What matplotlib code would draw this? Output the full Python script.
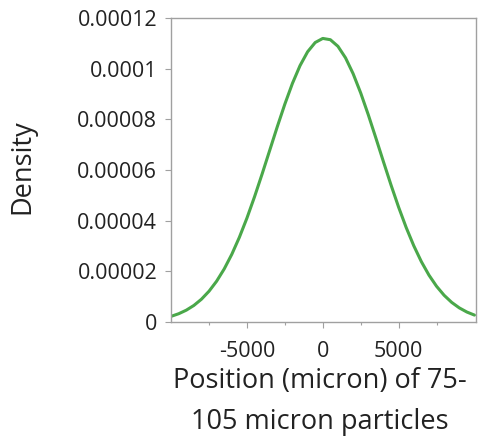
import matplotlib
matplotlib.use("Agg")
import matplotlib.pyplot as plt
from matplotlib.ticker import FixedLocator

plt.rcParams["font.family"] = ["Open Sans", "DejaVu Sans"]
plt.rcParams["axes.unicode_minus"] = False

# density curve, every 500 micron
POSITION = [-10000, -9500, -9000, -8500, -8000, -7500, -7000, -6500, -6000, -5500,
            -5000, -4500, -4000, -3500, -3000, -2500, -2000, -1500, -1000, -500,
            0, 500, 1000, 1500, 2000, 2500, 3000, 3500, 4000, 4500,
            5000, 5500, 6000, 6500, 7000, 7500, 8000, 8500, 9000, 9500, 10000]
DENSITY = [2.23e-6, 3.26e-6, 4.66e-6, 6.53e-6, 8.99e-6, 1.215e-5, 1.610e-5, 2.093e-5,
           2.670e-5, 3.342e-5, 4.103e-5, 4.943e-5, 5.842e-5, 6.774e-5, 7.707e-5,
           8.602e-5, 9.420e-5, 1.0120e-4, 1.0667e-4, 1.1032e-4, 1.1193e-4, 1.1142e-4,
           1.0881e-4, 1.0426e-4, 9.801e-5, 9.040e-5, 8.180e-5, 7.262e-5, 6.325e-5,
           5.405e-5, 4.531e-5, 3.727e-5, 3.008e-5, 2.381e-5, 1.850e-5, 1.410e-5,
           1.054e-5, 7.73e-6, 5.57e-6, 3.93e-6, 2.72e-6]

X_TICKS = [-5000, 0, 5000]
X_MINOR = [-7500, -2500, 2500, 7500]
Y_TICKS = [0, 0.00002, 0.00004, 0.00006, 0.00008, 0.0001, 0.00012]
Y_LABELS = ["0", "0.00002", "0.00004", "0.00006", "0.00008", "0.0001", "0.00012"]

TXT = "#222222"

fig = plt.figure(figsize=(4.82, 4.44), dpi=100)
ax = fig.add_axes([0.355, 0.2748, 0.6325, 0.6847])

ax.plot(POSITION, DENSITY, color="#4aa84a", lw=2.2, solid_capstyle="round",
        solid_joinstyle="round")

ax.set_xlim(-10000, 10100)
ax.set_ylim(0, 0.00012)
ax.set_xticks(X_TICKS)
ax.xaxis.set_minor_locator(FixedLocator(X_MINOR))
ax.set_yticks(Y_TICKS)
ax.set_yticklabels(Y_LABELS)

for s in ax.spines.values():
    s.set_color("#a0a0a0")
    s.set_linewidth(1.0)
ax.tick_params(axis="both", which="major", length=4, width=0.8, color="#a0a0a0",
               labelsize=15.5, labelcolor=TXT)
ax.tick_params(axis="y", which="major", pad=6)
ax.tick_params(axis="x", which="major", pad=10)
ax.tick_params(axis="x", which="minor", length=2, width=0.8, color="#a0a0a0")

# axis titles placed in figure pixels to match the reference layout
fig.text(22 / 482, 1 - 167 / 444, "Density", rotation=90, fontsize=19.5,
         color=TXT, ha="center", va="center")
fig.text(320 / 482, 1 - 381 / 444, "Position (micron) of 75-", fontsize=19.5,
         color=TXT, ha="center", va="center")
fig.text(320 / 482, 1 - 422 / 444, "105 micron particles", fontsize=19.5,
         color=TXT, ha="center", va="center")

fig.savefig("out.png", dpi=100)
